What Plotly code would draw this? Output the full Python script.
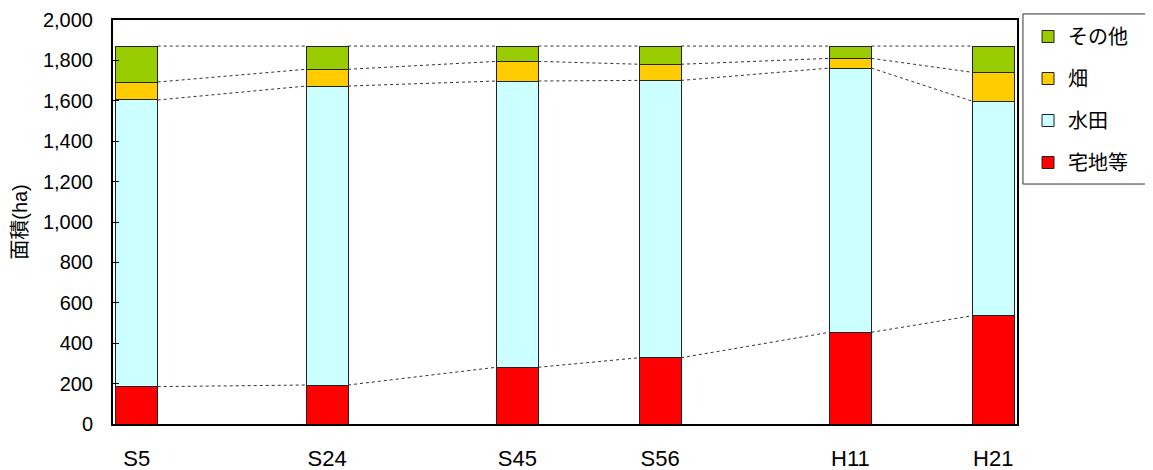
import plotly.graph_objects as go
import numpy as np

categories = ["S5", "S24", "S45", "S56", "H11", "H21"]
takuchi = [185, 193, 281, 328, 454, 536]      # 宅地等
suiden = [1419, 1480, 1417, 1373, 1308, 1062]  # 水田
hata = [89, 83, 97, 80, 48, 143]               # 畑
sonota = [178, 115, 76, 90, 61, 130]           # その他

series_names = ["宅地等", "水田", "畑", "その他"]
series_values = [takuchi, suiden, hata, sonota]
colors = ["#FF0000", "#CCFFFF", "#FFCC00", "#99CC00"]

# category slot layout (blank slots between surveys, as in the original chart)
slots = [0, 4, 8, 11, 15, 18]
bar_w = 0.88

FONT = "Liberation Sans, Arial, Noto Sans CJK JP"

fig = go.Figure()
n = len(series_names)
for idx, (name, vals, col) in enumerate(zip(series_names, series_values, colors)):
    fig.add_trace(go.Bar(
        x=slots, y=vals, name=name, width=bar_w,
        marker=dict(color=col, line=dict(color="#222222", width=1)),
        legendgroup=name, legendrank=n - idx,
    ))

# series lines connecting segment tops between neighbouring bars
cum = np.cumsum(np.array(series_values), axis=0)
for k in range(cum.shape[0]):
    xs, ys = [], []
    for i in range(len(slots) - 1):
        xs += [slots[i] + bar_w / 2, slots[i + 1] - bar_w / 2, None]
        ys += [cum[k][i], cum[k][i + 1], None]
    fig.add_trace(go.Scatter(
        x=xs, y=ys, mode="lines", showlegend=False, hoverinfo="skip",
        line=dict(color="#333333", width=1, dash="dot"),
    ))

fig.update_layout(
    barmode="stack",
    width=1145, height=462,
    margin=dict(l=105, r=136, t=12, b=46, autoexpand=False),
    plot_bgcolor="white", paper_bgcolor="white",
    font=dict(family=FONT, size=20, color="black"),
    legend=dict(
        x=1.0122, y=1.0074, xanchor="left", yanchor="top",
        traceorder="grouped", tracegroupgap=13,
        borderwidth=0, bgcolor="rgba(0,0,0,0)",
        font=dict(family=FONT, size=20),
        itemwidth=30,
    ),
    showlegend=True,
    shapes=[dict(
        type="rect", xref="paper", yref="paper",
        x0=1.0066, x1=1.16, y0=0.594, y1=1.015,
        line=dict(color="#333333", width=1), fillcolor="rgba(0,0,0,0)",
        layer="below",
    )],
)
fig.update_xaxes(
    range=[-0.5, 18.5], tickmode="array", tickvals=slots, ticktext=categories,
    showgrid=False, zeroline=False, showline=True, linecolor="black", linewidth=2,
    mirror=True, ticks="", ticklabelstandoff=14, automargin=False,
    tickfont=dict(size=22),
)
fig.update_yaxes(
    range=[0, 2000], dtick=200, tickformat=",",
    showgrid=False, zeroline=False, showline=True, linecolor="black", linewidth=2,
    mirror=True, ticks="inside", ticklen=6, tickcolor="black", ticklabelstandoff=14,
    tickfont=dict(size=20), automargin=False,
    title=dict(text="面積(ha)", font=dict(size=20), standoff=10),
)

fig.write_html("out.html")
